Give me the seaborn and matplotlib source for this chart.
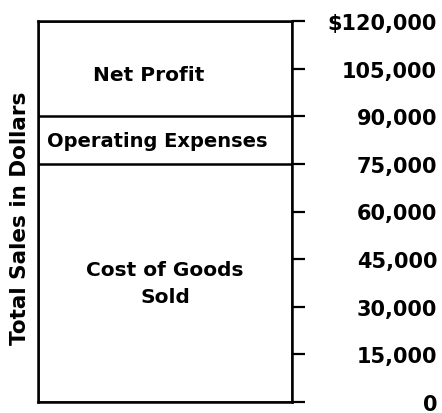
import matplotlib
matplotlib.use('Agg')
import numpy as np
import pandas as pd
import seaborn as sns
from matplotlib import pyplot as plt

# segments of the single sales bar, bottom to top
segments = ["Cost of Goods Sold", "Operating Expenses", "Net Profit"]
amounts = [75000, 15000, 30000]
tick_values = [0, 15000, 30000, 45000, 60000, 75000, 90000, 105000, 120000]
tick_labels = ["0", "15,000", "30,000", "45,000", "60,000", "75,000",
               "90,000", "105,000", "$120,000"]

sns.set_theme(style="white")
plt.rcParams['font.family'] = ['DejaVu Sans']

tops = np.cumsum(amounts)
lows = tops - np.array(amounts)
df = pd.DataFrame({"segment": segments, "amount": amounts, "top": tops, "low": lows})

fig = plt.figure(figsize=(4.42, 4.14), dpi=100)
ax = fig.add_axes([38 / 442, 11 / 414, 254 / 442, 381 / 414])

# stacked look: draw cumulative bars tallest first so each boundary shows a line
for i in reversed(range(len(df))):
    sns.barplot(x=["Total"], y=[df["top"][i]], color="white", edgecolor="black",
                linewidth=1.8, width=1.0, ax=ax, saturation=1)

ax.set_ylim(0, 120000)
ax.set_xlim(-0.5, 0.5)
ax.set_xticks([])
ax.set_xlabel("")
for s in ax.spines.values():
    s.set_color("black")
    s.set_linewidth(1.8)

ax.yaxis.tick_right()
ax.set_yticks(tick_values)
ax.set_yticklabels(tick_labels, ha="right", fontsize=15, fontweight="bold")
ax.tick_params(axis="y", direction="out", length=9.5, width=1.6, color="black",
               pad=95, labelcolor="black")

ax.set_ylabel("Total Sales in Dollars", fontsize=15.5, fontweight="bold", color="black")
ax.yaxis.set_label_position("left")
ax.yaxis.set_label_coords(-0.03, 0.485)

# segment names inside the bar
mid = (df["low"] + df["top"]) / 2
ax.text(-0.065, 103300, "Net Profit", ha="center", va="center",
        fontsize=14.5, fontweight="bold", color="black")
ax.text(-0.03, mid[1], "Operating Expenses", ha="center", va="center",
        fontsize=14, fontweight="bold", color="black")
ax.text(0.0, 37500, "Cost of Goods\nSold", ha="center", va="center",
        fontsize=14.5, fontweight="bold", color="black", linespacing=1.55)

fig.savefig("out.png", dpi=100)
